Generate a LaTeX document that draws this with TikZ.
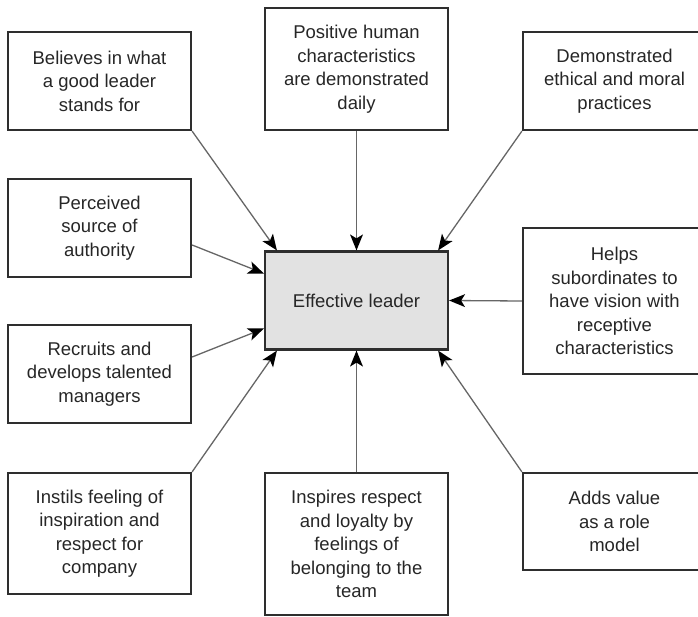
\documentclass[tikz,border=0pt]{standalone}
\usepackage{fontspec}
\setmainfont{Liberation Sans}
\usetikzlibrary{arrows.meta}
\definecolor{boxline}{HTML}{2E2E2E}
\definecolor{wire}{HTML}{666666}
\definecolor{txt}{HTML}{262626}
\definecolor{leaderfill}{HTML}{E2E2E2}
\begin{document}
\begin{tikzpicture}[x=1pt,y=-1pt,
  box/.style={draw=boxline, line width=2.2pt, minimum width=183pt, align=center,
    inner sep=0pt, text=txt, font=\fontsize{18.5}{23.5}\selectfont},
  tiphead/.tip={Stealth[length=16pt,width=13pt,inset=4pt,line width=0pt,fill=black]},
  arr/.style={draw=wire, line width=1.3pt, arrows={-tiphead[black]}}]
\useasboundingbox (0,0) rectangle (698,617);
\clip (0,0) rectangle (698,617);

% central box
\node[box, fill=leaderfill, minimum height=98pt] (leader) at (356.5,300.5) {Effective leader};

% surrounding boxes
\node[box, minimum height=98pt]  (believes)  at (99.5,81)   {Believes in what\\a good leader\\stands for};
\node[box, minimum height=122pt] (positive)  at (356.5,69)  {Positive human\\characteristics\\are demonstrated\\daily};
\node[box, minimum height=98pt]  (ethical)   at (614.5,81)  {Demonstrated\\ethical and moral\\practices};
\node[box, minimum height=98pt]  (authority) at (99.5,228)  {Perceived\\source of\\authority};
\node[box, minimum height=146pt] (vision)    at (614.5,301) {Helps\\subordinates to\\have vision with\\receptive\\characteristics};
\node[box, minimum height=98pt]  (recruits)  at (99.5,374)  {Recruits and\\develops talented\\managers};
\node[box, minimum height=121pt] (instils)   at (99.5,533.5) {Instils feeling of\\inspiration and\\respect for\\company};
\node[box, minimum height=142pt] (inspires)  at (356.5,544) {Inspires respect\\and loyalty by\\feelings of\\belonging to the\\team};
\node[box, minimum height=97pt]  (rolemodel) at (614.5,521.5) {Adds value\\as a role\\model};

% connectors into the central box
\draw[arr] (believes.south east) -- ([xshift=13pt]leader.north west);
\draw[arr] (positive.south) -- (leader.north);
\draw[arr] (ethical.south west) -- ([xshift=-11pt]leader.north east);
\draw[arr] ([yshift=-17pt]authority.east) -- ([yshift=27pt]leader.west);
\draw[arr] (vision.west) -- (leader.east);
\draw[arr] ([yshift=17pt]recruits.east) -- ([yshift=-28pt]leader.west);
\draw[arr] (instils.north east) -- ([xshift=13pt]leader.south west);
\draw[arr] (inspires.north) -- (leader.south);
\draw[arr] (rolemodel.north west) -- ([xshift=-11pt]leader.south east);
\end{tikzpicture}
\end{document}
